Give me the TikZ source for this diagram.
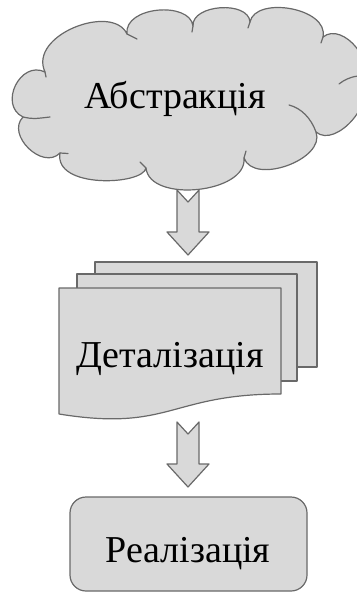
\documentclass[tikz,border=0pt]{standalone}
\usepackage{fontspec}
\setmainfont{Liberation Serif}
\usetikzlibrary{calc}
\definecolor{shapefill}{HTML}{D9D9D9}
\definecolor{shapeline}{HTML}{696969}
\newcommand\lobe[4]{.. controls ($(#1)!#3!90:(#2)$) and ($(#2)!#4!-90:(#1)$) .. (#2)}
\tikzset{
  shp/.style={fill=shapefill, draw=shapeline, line width=1.2pt, line join=round},
  tick/.style={draw=shapeline, line width=1.2pt, line cap=round},
  lbl/.style={font=\fontsize{38}{40}\selectfont, inner sep=0pt, anchor=base},
  blockarrow/.pic={\path[shp] (-11,0) -- (0,12) -- (11,0) -- (11,42) -- (21,42) -- (0,65) -- (-21,42) -- (-11,42) -- cycle;}
}
\begin{document}
\begin{tikzpicture}[x=1pt,y=-1pt]
\useasboundingbox (0,0) rectangle (356,593);
% cloud junctions
\coordinate (j1) at (45,72);
\coordinate (j2) at (127,34);
\coordinate (j3) at (193,26);
\coordinate (j4) at (250,22);
\coordinate (j5) at (323,37);
\coordinate (j6) at (359,82);
\coordinate (j7) at (316,132);
\coordinate (j8) at (244,158);
\coordinate (j9) at (146,168);
\coordinate (j10) at (60,153);
\coordinate (j11) at (23,117);
\path[shp] (j1) \lobe{j1}{j2}{0.45}{0.38} \lobe{j2}{j3}{0.42}{0.38} \lobe{j3}{j4}{0.38}{0.38}
  \lobe{j4}{j5}{0.36}{0.4} \lobe{j5}{j6}{0.45}{0.45} \lobe{j6}{j7}{0.4}{0.4}
  \lobe{j7}{j8}{0.38}{0.38} \lobe{j8}{j9}{0.36}{0.36} \lobe{j9}{j10}{0.2}{0.42}
  \lobe{j10}{j11}{0.48}{0.48} \lobe{j11}{j1}{0.55}{0.55} -- cycle;
% inner arcs of the cloud
\draw[tick] (j11) .. controls (33,119) .. (50,117);
\draw[tick] (j10) -- (68,153.5);
\draw[tick] (j9) -- (140,162);
\draw[tick] (j8) -- (246,151);
\draw[tick] (j7) .. controls (311,118) and (301,108) .. (289,105);
\draw[tick] (358,76) .. controls (350,77) and (344,80) .. (339,84);
\draw[tick] (j2) -- (137,39);
\draw[tick] (j3) -- (192,32);
\draw[tick] (j4) -- (248,28);
\draw[tick] (j5) -- (321,43);
\draw[tick] (j1) -- (46,77);
\node[lbl] (abs) at (175,109) {Абстракція};
% arrow 1
\pic at (188,190) {blockarrow};
% document stack
\path[shp] (95,262) rectangle (317,367);
\path[shp] (77,274) rectangle (297,381);
\path[shp] (59,288) -- (281,288) -- (281,394) .. controls (170,394) and (170,432) .. (59,414) -- cycle;
\node[lbl] (det) at (170,367) {Деталізація};
% arrow 2
\pic at (188,422) {blockarrow};
% rounded box
\path[shp, rounded corners=16pt] (70,497) rectangle (307,591);
\node[lbl] (real) at (188,562) {Реалізація};
\end{tikzpicture}
\end{document}
